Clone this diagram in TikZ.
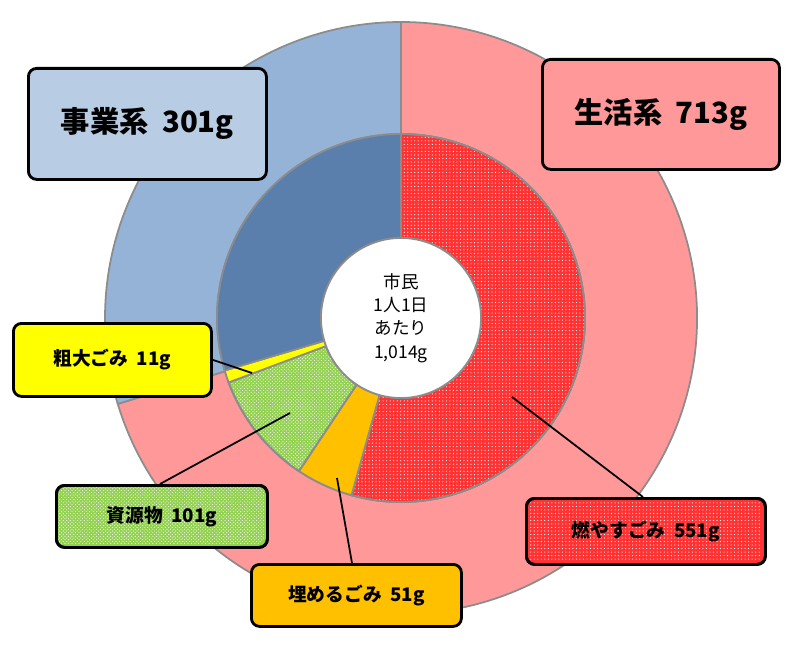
\documentclass[tikz,border=0pt]{standalone}
\usepackage{fontspec}
\setmainfont{Noto Sans CJK JP}
\usetikzlibrary{patterns}
\definecolor{pinkc}{HTML}{FF9999}
\definecolor{bluel}{HTML}{95B3D7}
\definecolor{blued}{HTML}{5B7FAC}
\definecolor{redc}{HTML}{FF3333}
\definecolor{orangec}{HTML}{FFC000}
\definecolor{greenc}{HTML}{92D050}
\definecolor{yellowc}{HTML}{FFFF00}
\definecolor{boxblue}{HTML}{B8CCE4}
\newcommand{\mysector}[5]{\path[#1] (#4:#2) arc (#4:#5:#2) -- (#5:#3) arc (#5:#4:#3) -- cycle;}
\tikzset{
  seg/.style={draw=gray!90, line width=1.5pt},
  lab/.style={draw=black, line width=2.4pt, rounded corners=7pt, anchor=north west, inner sep=0pt, align=center},
  lead/.style={black, line width=1.5pt}
}
\begin{document}
\begin{tikzpicture}[x=0.03cm,y=-0.03cm]
\useasboundingbox (0,0) rectangle (802,647);
\begin{scope}[shift={(401,318)},x=0.03cm,y=0.03cm]
\mysector{seg,fill=bluel}{296}{184}{90}{196.9}
\mysector{seg,fill=pinkc}{296}{184}{196.9}{450}
\mysector{seg,fill=redc}{184}{80}{-105.6}{90}
\mysector{pattern=dots,pattern color=white}{184}{80}{-105.6}{90}
\mysector{seg}{184}{80}{-105.6}{90}
\mysector{seg,fill=orangec}{184}{80}{-123.7}{-105.6}
\mysector{seg,fill=greenc}{184}{80}{-159.5}{-123.7}
\mysector{pattern=crosshatch dots,pattern color=white}{184}{80}{-159.5}{-123.7}
\mysector{seg}{184}{80}{-159.5}{-123.7}
\mysector{seg,fill=yellowc}{184}{80}{-163.4}{-159.5}
\mysector{seg,fill=blued}{184}{80}{-270}{-163.4}
\draw[seg,fill=white] (0,0) circle (80);
\node[align=center,font=\fontsize{15}{20}\selectfont] (ctr) at (0,0) {市民\\1人1日\\あたり\\1,014g};
\end{scope}
\node[lab,fill=boxblue,minimum width=238*0.03cm,minimum height=111*0.03cm,font=\fontsize{25}{30}\selectfont\bfseries] (jig) at (27,67) {事業系\ \ 301g};
\node[lab,fill=pinkc,minimum width=237*0.03cm,minimum height=110*0.03cm,font=\fontsize{25}{30}\selectfont\bfseries] (sei) at (541,58) {生活系\ \ 713g};
\node[lab,fill=yellowc,minimum width=198*0.03cm,minimum height=73*0.03cm,font=\fontsize{16}{19}\selectfont\bfseries] (sod) at (12,322) {粗大ごみ\ \ 11g};
\node[lab,fill=greenc,minimum width=211*0.03cm,minimum height=62*0.03cm] (shi) at (55,484) {};
\path[pattern=crosshatch dots,pattern color=white,rounded corners=6pt] (57,486) rectangle (264,544);
\node[lab,minimum width=211*0.03cm,minimum height=62*0.03cm,font=\fontsize{16}{19}\selectfont\bfseries] (shi2) at (55,484) {資源物\ \ 101g};
\node[lab,fill=orangec,minimum width=210*0.03cm,minimum height=62*0.03cm,font=\fontsize{16}{19}\selectfont\bfseries] (ume) at (250,563) {埋めるごみ\ \ 51g};
\node[lab,fill=redc,minimum width=239*0.03cm,minimum height=66*0.03cm] (moy) at (525,497) {};
\path[pattern=dots,pattern color=white,rounded corners=6pt] (527,499) rectangle (762,561);
\node[lab,minimum width=239*0.03cm,minimum height=66*0.03cm,font=\fontsize{16}{19}\selectfont\bfseries] (moy2) at (525,497) {燃やすごみ\ \ 551g};
\coordinate (p1) at (252,373);
\coordinate (p2) at (290,413);
\coordinate (p3) at (337,478);
\coordinate (p4) at (512,397);
\draw[lead] (sod.east) -- (p1);
\draw[lead] (160,484) -- (p2);
\draw[lead] (352,563) -- (p3);
\draw[lead] (643,497) -- (p4);
\end{tikzpicture}
\end{document}
